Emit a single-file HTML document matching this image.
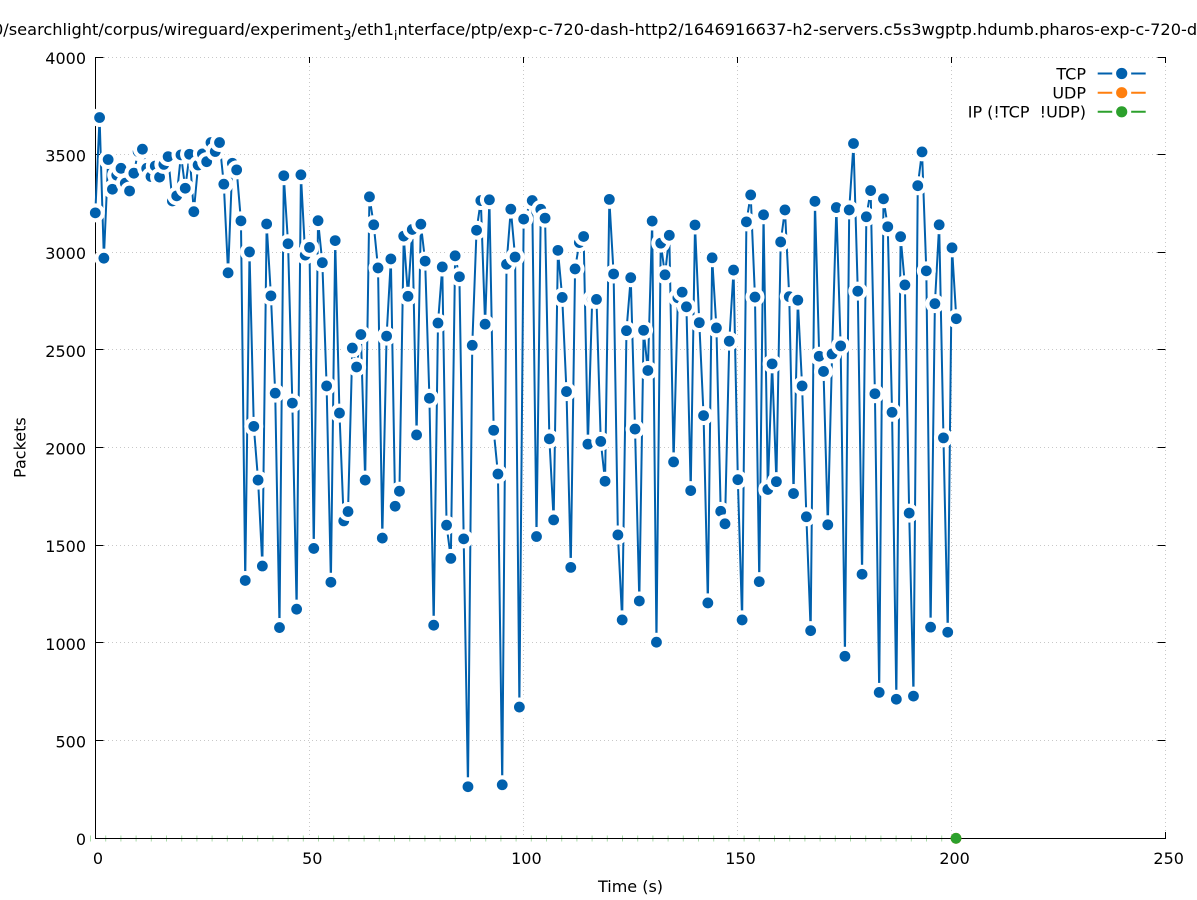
<!DOCTYPE html>
<html>
<head>
<meta charset="utf-8">
<style>
html,body{margin:0;padding:0;background:#fff;}
svg{display:block;}
text{font-family:"DejaVu Sans","Liberation Sans",sans-serif;font-size:16px;fill:#000;}
</style>
</head>
<body>
<svg width="1197" height="900" viewBox="0 0 1197 900">
<defs>
<g id="p"><ellipse rx="2.2178" ry="48.636" fill="#fff"/><ellipse rx="1.2606" ry="27.646" fill="#0060ad"/></g>
</defs>
<rect x="0" y="0" width="1197" height="900" fill="#fff"/>

<!-- title -->
<text x="-7" y="35" style="font-size:16.2px">0/searchlight/corpus/wireguard/experiment<tspan style="font-size:13px" dy="5">3</tspan><tspan dy="-5">/eth1</tspan><tspan style="font-size:13px" dy="5">i</tspan><tspan dy="-5">nterface/ptp/exp-c-720-dash-http2/1646916637-h2-servers.c5s3wgptp.hdumb.pharos-exp-c-720-dash-http2</tspan></text>

<!-- grid -->
<g stroke="#c8c8c8" stroke-width="1" stroke-dasharray="1 3" fill="none">
<path d="M96 740.5H1165M96 642.5H1165M96 545.5H1165M96 447.5H1165M96 349.5H1165M96 252.5H1165M96 154.5H1165M96 57.5H1165"/>
<path d="M309.5 58V838M523.5 58V838M737.5 58V838M951.5 58V838M1165.5 58V838"/>
</g>

<!-- faint green marks along x axis -->
<line x1="90" y1="838.5" x2="952" y2="838.5" stroke="#a9dba9" stroke-width="6" stroke-dasharray="1 14.2"/>

<!-- axes -->
<g stroke="#000" stroke-width="1" fill="none">
<path d="M95.5 57V838.5H1166"/>
<path d="M95.5 740.5h8M95.5 642.5h8M95.5 545.5h8M95.5 447.5h8M95.5 349.5h8M95.5 252.5h8M95.5 154.5h8M95.5 57.5h8"/>
<path d="M1165.5 740.5h-8M1165.5 642.5h-8M1165.5 545.5h-8M1165.5 447.5h-8M1165.5 349.5h-8M1165.5 252.5h-8M1165.5 154.5h-8M1165.5 57.5h-8"/>
<path d="M309.5 57v6M523.5 57v6M737.5 57v6M951.5 57v6M1165.5 57v6"/>
<path d="M1165.5 838v-6"/>
</g>

<!-- y tick labels -->
<g text-anchor="end">
<text x="86" y="845">0</text>
<text x="86" y="747.5">500</text>
<text x="86" y="650">1000</text>
<text x="86" y="552">1500</text>
<text x="86" y="454.5">2000</text>
<text x="86" y="357">2500</text>
<text x="86" y="259">3000</text>
<text x="86" y="161.5">3500</text>
<text x="86" y="64">4000</text>
</g>
<!-- x tick labels -->
<g text-anchor="middle">
<text x="98" y="864">0</text>
<text x="312.3" y="864">50</text>
<text x="526.4" y="864">100</text>
<text x="740.5" y="864">150</text>
<text x="954.6" y="864">200</text>
<text x="1168.7" y="864">250</text>
</g>

<!-- axis labels -->
<text x="630.5" y="892" text-anchor="middle">Time (s)</text>
<text transform="translate(25.5 447.6) rotate(-90)" text-anchor="middle">Packets</text>

<!-- TCP series -->
<g transform="translate(95.3 838.3) scale(4.2836 -0.19533)">
<polyline fill="none" stroke="#0060ad" stroke-width="2" vector-effect="non-scaling-stroke" stroke-linejoin="round" points="0,3202 1,3690 2,2970 3,3475 4,3323 5,3395 6,3430 7,3354 8,3314 9,3405 10,3516 11,3528 12,3430 13,3388 14,3442 15,3385 16,3450 17,3490 18,3263 19,3289 20,3499 21,3328 22,3502 23,3208 24,3447 25,3504 26,3464 27,3562 28,3516 29,3562 30,3349 31,2895 32,3456 33,3422 34,3161 35,1320 36,3002 37,2109 38,1834 39,1394 40,3145 41,2777 42,2279 43,1079 44,3392 45,3044 46,2228 47,1173 48,3397 49,2986 50,3025 51,1484 52,3162 53,2947 54,2316 55,1311 56,3060 57,2177 58,1625 59,1673 60,2510 61,2413 62,2579 63,1834 64,3284 65,3141 66,2920 67,1537 68,2571 69,2966 70,1700 71,1777 72,3083 73,2775 74,3117 75,2065 76,3144 77,2955 78,2253 79,1091 80,2638 81,2925 82,1603 83,1433 84,2982 85,2875 86,1533 87,264 88,2524 89,3113 90,3265 91,2632 92,3269 93,2089 94,1865 95,274 96,2939 97,3221 98,2976 99,672 100,3170 102,3265 103,1545 104,3220 105,3175 106,2045 107,1630 108,3010 109,2769 110,2287 111,1387 112,2915 113,3050 114,3081 115,2018 116,2760 117,2759 118,2032 119,1828 120,3271 121,2889 122,1553 123,1118 124,2599 125,2870 126,2095 127,1215 128,2601 129,2395 130,3160 131,1004 132,3047 133,2885 134,3087 135,1927 136,2767 137,2796 138,2721 139,1780 140,3140 141,2640 142,2164 143,1205 144,2972 145,2613 146,1674 147,1610 148,2545 149,2909 150,1836 151,1118 152,3156 153,3294 154,2771 155,1314 156,3192 157,1786 158,2429 159,1826 160,3053 161,3217 162,2773 163,1765 164,2755 165,2316 166,1646 167,1063 168,3261 169,2468 170,2390 171,1605 172,2480 173,3229 174,2521 175,932 176,3217 177,3557 178,2801 179,1352 180,3182 181,3316 182,2276 183,747 184,3274 185,3131 186,2181 187,712 188,3080 189,2833 190,1665 191,728 192,3341 193,3514 194,2905 195,1081 196,2737 197,3141 198,2050 199,1055 200,3023 201,2660"/>
<use href="#p" x="0" y="3202"/><use href="#p" x="1" y="3690"/><use href="#p" x="2" y="2970"/><use href="#p" x="3" y="3475"/><use href="#p" x="4" y="3323"/><use href="#p" x="5" y="3395"/><use href="#p" x="6" y="3430"/><use href="#p" x="7" y="3354"/><use href="#p" x="8" y="3314"/><use href="#p" x="9" y="3405"/>
<use href="#p" x="10" y="3516"/><use href="#p" x="11" y="3528"/><use href="#p" x="12" y="3430"/><use href="#p" x="13" y="3388"/><use href="#p" x="14" y="3442"/><use href="#p" x="15" y="3385"/><use href="#p" x="16" y="3450"/><use href="#p" x="17" y="3490"/><use href="#p" x="18" y="3263"/><use href="#p" x="19" y="3289"/>
<use href="#p" x="20" y="3499"/><use href="#p" x="21" y="3328"/><use href="#p" x="22" y="3502"/><use href="#p" x="23" y="3208"/><use href="#p" x="24" y="3447"/><use href="#p" x="25" y="3504"/><use href="#p" x="26" y="3464"/><use href="#p" x="27" y="3562"/><use href="#p" x="28" y="3516"/><use href="#p" x="29" y="3562"/>
<use href="#p" x="30" y="3349"/><use href="#p" x="31" y="2895"/><use href="#p" x="32" y="3456"/><use href="#p" x="33" y="3422"/><use href="#p" x="34" y="3161"/><use href="#p" x="35" y="1320"/><use href="#p" x="36" y="3002"/><use href="#p" x="37" y="2109"/><use href="#p" x="38" y="1834"/><use href="#p" x="39" y="1394"/>
<use href="#p" x="40" y="3145"/><use href="#p" x="41" y="2777"/><use href="#p" x="42" y="2279"/><use href="#p" x="43" y="1079"/><use href="#p" x="44" y="3392"/><use href="#p" x="45" y="3044"/><use href="#p" x="46" y="2228"/><use href="#p" x="47" y="1173"/><use href="#p" x="48" y="3397"/><use href="#p" x="49" y="2986"/>
<use href="#p" x="50" y="3025"/><use href="#p" x="51" y="1484"/><use href="#p" x="52" y="3162"/><use href="#p" x="53" y="2947"/><use href="#p" x="54" y="2316"/><use href="#p" x="55" y="1311"/><use href="#p" x="56" y="3060"/><use href="#p" x="57" y="2177"/><use href="#p" x="58" y="1625"/><use href="#p" x="59" y="1673"/>
<use href="#p" x="60" y="2510"/><use href="#p" x="61" y="2413"/><use href="#p" x="62" y="2579"/><use href="#p" x="63" y="1834"/><use href="#p" x="64" y="3284"/><use href="#p" x="65" y="3141"/><use href="#p" x="66" y="2920"/><use href="#p" x="67" y="1537"/><use href="#p" x="68" y="2571"/><use href="#p" x="69" y="2966"/>
<use href="#p" x="70" y="1700"/><use href="#p" x="71" y="1777"/><use href="#p" x="72" y="3083"/><use href="#p" x="73" y="2775"/><use href="#p" x="74" y="3117"/><use href="#p" x="75" y="2065"/><use href="#p" x="76" y="3144"/><use href="#p" x="77" y="2955"/><use href="#p" x="78" y="2253"/><use href="#p" x="79" y="1091"/>
<use href="#p" x="80" y="2638"/><use href="#p" x="81" y="2925"/><use href="#p" x="82" y="1603"/><use href="#p" x="83" y="1433"/><use href="#p" x="84" y="2982"/><use href="#p" x="85" y="2875"/><use href="#p" x="86" y="1533"/><use href="#p" x="87" y="264"/><use href="#p" x="88" y="2524"/><use href="#p" x="89" y="3113"/>
<use href="#p" x="90" y="3265"/><use href="#p" x="91" y="2632"/><use href="#p" x="92" y="3269"/><use href="#p" x="93" y="2089"/><use href="#p" x="94" y="1865"/><use href="#p" x="95" y="274"/><use href="#p" x="96" y="2939"/><use href="#p" x="97" y="3221"/><use href="#p" x="98" y="2976"/><use href="#p" x="99" y="672"/>
<use href="#p" x="100" y="3170"/><use href="#p" x="102" y="3265"/><use href="#p" x="103" y="1545"/><use href="#p" x="104" y="3220"/><use href="#p" x="105" y="3175"/><use href="#p" x="106" y="2045"/><use href="#p" x="107" y="1630"/><use href="#p" x="108" y="3010"/><use href="#p" x="109" y="2769"/>
<use href="#p" x="110" y="2287"/><use href="#p" x="111" y="1387"/><use href="#p" x="112" y="2915"/><use href="#p" x="113" y="3050"/><use href="#p" x="114" y="3081"/><use href="#p" x="115" y="2018"/><use href="#p" x="116" y="2760"/><use href="#p" x="117" y="2759"/><use href="#p" x="118" y="2032"/><use href="#p" x="119" y="1828"/>
<use href="#p" x="120" y="3271"/><use href="#p" x="121" y="2889"/><use href="#p" x="122" y="1553"/><use href="#p" x="123" y="1118"/><use href="#p" x="124" y="2599"/><use href="#p" x="125" y="2870"/><use href="#p" x="126" y="2095"/><use href="#p" x="127" y="1215"/><use href="#p" x="128" y="2601"/><use href="#p" x="129" y="2395"/>
<use href="#p" x="130" y="3160"/><use href="#p" x="131" y="1004"/><use href="#p" x="132" y="3047"/><use href="#p" x="133" y="2885"/><use href="#p" x="134" y="3087"/><use href="#p" x="135" y="1927"/><use href="#p" x="136" y="2767"/><use href="#p" x="137" y="2796"/><use href="#p" x="138" y="2721"/><use href="#p" x="139" y="1780"/>
<use href="#p" x="140" y="3140"/><use href="#p" x="141" y="2640"/><use href="#p" x="142" y="2164"/><use href="#p" x="143" y="1205"/><use href="#p" x="144" y="2972"/><use href="#p" x="145" y="2613"/><use href="#p" x="146" y="1674"/><use href="#p" x="147" y="1610"/><use href="#p" x="148" y="2545"/><use href="#p" x="149" y="2909"/>
<use href="#p" x="150" y="1836"/><use href="#p" x="151" y="1118"/><use href="#p" x="152" y="3156"/><use href="#p" x="153" y="3294"/><use href="#p" x="154" y="2771"/><use href="#p" x="155" y="1314"/><use href="#p" x="156" y="3192"/><use href="#p" x="157" y="1786"/><use href="#p" x="158" y="2429"/><use href="#p" x="159" y="1826"/>
<use href="#p" x="160" y="3053"/><use href="#p" x="161" y="3217"/><use href="#p" x="162" y="2773"/><use href="#p" x="163" y="1765"/><use href="#p" x="164" y="2755"/><use href="#p" x="165" y="2316"/><use href="#p" x="166" y="1646"/><use href="#p" x="167" y="1063"/><use href="#p" x="168" y="3261"/><use href="#p" x="169" y="2468"/>
<use href="#p" x="170" y="2390"/><use href="#p" x="171" y="1605"/><use href="#p" x="172" y="2480"/><use href="#p" x="173" y="3229"/><use href="#p" x="174" y="2521"/><use href="#p" x="175" y="932"/><use href="#p" x="176" y="3217"/><use href="#p" x="177" y="3557"/><use href="#p" x="178" y="2801"/><use href="#p" x="179" y="1352"/>
<use href="#p" x="180" y="3182"/><use href="#p" x="181" y="3316"/><use href="#p" x="182" y="2276"/><use href="#p" x="183" y="747"/><use href="#p" x="184" y="3274"/><use href="#p" x="185" y="3131"/><use href="#p" x="186" y="2181"/><use href="#p" x="187" y="712"/><use href="#p" x="188" y="3080"/><use href="#p" x="189" y="2833"/>
<use href="#p" x="190" y="1665"/><use href="#p" x="191" y="728"/><use href="#p" x="192" y="3341"/><use href="#p" x="193" y="3514"/><use href="#p" x="194" y="2905"/><use href="#p" x="195" y="1081"/><use href="#p" x="196" y="2737"/><use href="#p" x="197" y="3141"/><use href="#p" x="198" y="2050"/><use href="#p" x="199" y="1055"/>
<use href="#p" x="200" y="3023"/><use href="#p" x="201" y="2660"/>
</g>

<!-- UDP / IP final points at zero -->
<circle cx="956" cy="838.3" r="5.4" fill="#ff7f0e"/>
<circle cx="956" cy="838.3" r="5.4" fill="#2ca02c"/>

<!-- legend -->
<g text-anchor="end">
<text x="1086" y="79.3">TCP</text>
<text x="1086" y="98.5">UDP</text>
<text x="1086" y="117.5">IP (!TCP&#160;&#160;!UDP)</text>
</g>
<g stroke-width="2" fill="none">
<line x1="1097.7" y1="73.5" x2="1145.7" y2="73.5" stroke="#0060ad"/>
<line x1="1097.7" y1="92.7" x2="1145.7" y2="92.7" stroke="#ff7f0e"/>
<line x1="1097.7" y1="111.8" x2="1145.7" y2="111.8" stroke="#2ca02c"/>
</g>
<circle cx="1121.7" cy="73.5" r="9.5" fill="#fff"/><circle cx="1121.7" cy="73.5" r="5.6" fill="#0060ad"/>
<circle cx="1121.7" cy="92.7" r="9.5" fill="#fff"/><circle cx="1121.7" cy="92.7" r="5.6" fill="#ff7f0e"/>
<circle cx="1121.7" cy="111.8" r="9.5" fill="#fff"/><circle cx="1121.7" cy="111.8" r="5.6" fill="#2ca02c"/>
</svg>
</body>
</html>
